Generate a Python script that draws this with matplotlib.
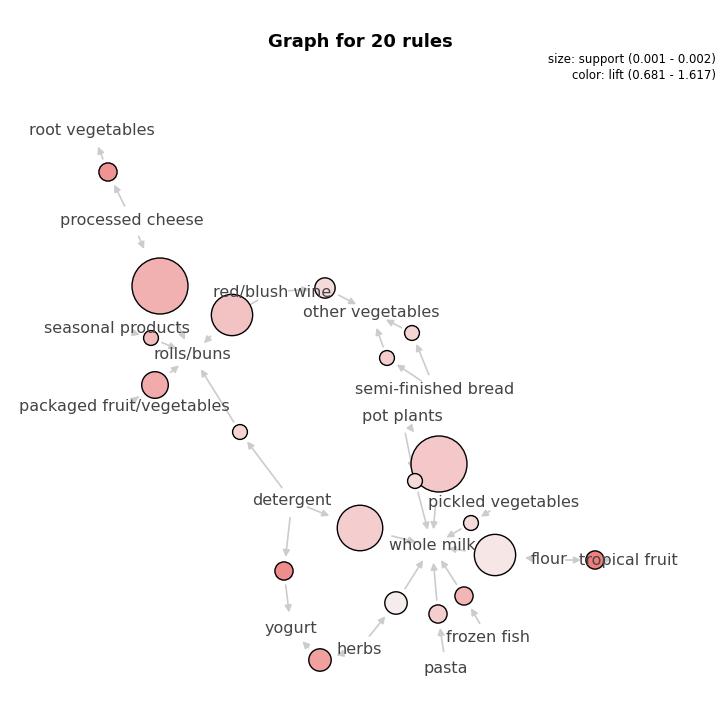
import matplotlib.pyplot as plt
from matplotlib.colors import LinearSegmentedColormap
import numpy as np

# item nodes: label position in the layout (pixel-ish coords, y down)
items = {
    'root vegetables': (92, 131), 'processed cheese': (132, 221),
    'seasonal products': (117, 328), 'rolls/buns': (192, 355),
    'packaged fruit/vegetables': (124, 407), 'red/blush wine': (272, 292),
    'other vegetables': (371, 312), 'semi-finished bread': (435, 390),
    'pot plants': (402, 417), 'pickled vegetables': (504, 502),
    'detergent': (292, 501), 'whole milk': (432, 546), 'flour': (549, 560),
    'tropical fruit': (628, 560), 'yogurt': (291, 629), 'herbs': (359, 649),
    'frozen fish': (488, 638), 'pasta': (446, 668),
}

# rules: lhs, rhs, support, lift
lhs = ['processed cheese', 'processed cheese', 'seasonal products', 'packaged fruit/vegetables',
       'red/blush wine', 'red/blush wine', 'semi-finished bread', 'semi-finished bread',
       'detergent', 'pot plants', 'pot plants', 'detergent', 'pickled vegetables', 'flour',
       'flour', 'detergent', 'herbs', 'herbs', 'pasta', 'frozen fish']
rhs = ['root vegetables', 'rolls/buns', 'rolls/buns', 'rolls/buns', 'rolls/buns',
       'other vegetables', 'other vegetables', 'other vegetables', 'rolls/buns', 'whole milk',
       'whole milk', 'whole milk', 'whole milk', 'whole milk', 'tropical fruit', 'yogurt',
       'yogurt', 'whole milk', 'whole milk', 'whole milk']
support = [0.00110, 0.00200, 0.00102, 0.00130, 0.00165, 0.00115, 0.00102, 0.00102, 0.00102,
           0.00200, 0.00102, 0.00175, 0.00102, 0.00165, 0.00110, 0.00110, 0.00120, 0.00120,
           0.00110, 0.00110]
lift = [1.45, 1.20, 1.10, 1.25, 1.05, 0.85, 0.90, 0.95, 0.90, 1.00, 0.85, 0.95, 0.85, 0.75,
        1.617, 1.50, 1.35, 0.70, 0.95, 1.15]

# layout position of each rule node
rule_pos = [(108, 172), (160, 286), (151, 338), (155, 385), (232, 315), (325, 288),
            (412, 333), (387, 358), (240, 432), (439, 464), (415, 481), (360, 528),
            (471, 523), (495, 555), (595, 560), (284, 571), (320, 660), (396, 603),
            (438, 614), (464, 596)]

cmap = LinearSegmentedColormap.from_list('lift', ['#f7eeee', '#ee7f7f'])
fig = plt.figure(figsize=(7.2, 7.2), dpi=100)
ax = fig.add_axes([0, 0, 1, 1])
ax.set_xlim(0, 720)
ax.set_ylim(720, 0)
ax.axis('off')

smin, smax = 0.001, 0.002
lmin, lmax = 0.681, 1.617
for a, b, s, l, (rx, ry) in zip(lhs, rhs, support, lift, rule_pos):
    r = 7 + (s - smin) / (smax - smin) * 21
    ax.add_patch(plt.Circle((rx, ry), r, facecolor=cmap((l - lmin) / (lmax - lmin)),
                            edgecolor='black', lw=1, zorder=3))
    ax.annotate('', xy=(rx, ry), xytext=items[a],
                arrowprops=dict(arrowstyle='-|>', color='#cccccc', lw=1.2,
                                shrinkA=12, shrinkB=r + 1, mutation_scale=10), zorder=1)
    ax.annotate('', xy=items[b], xytext=(rx, ry),
                arrowprops=dict(arrowstyle='-|>', color='#cccccc', lw=1.2,
                                shrinkA=r + 1, shrinkB=12, mutation_scale=10), zorder=1)

for name, (x, y) in items.items():
    ax.text(x, y, name, ha='center', va='center', fontsize=11.5, color='#444444', zorder=4)

ax.text(360, 42, 'Graph for 20 rules', ha='center', va='center', fontsize=13, fontweight='bold')
ax.text(716, 60, 'size: support (0.001 - 0.002)', ha='right', va='center', fontsize=8.5)
ax.text(716, 76, 'color: lift (0.681 - 1.617)', ha='right', va='center', fontsize=8.5)

fig.savefig('out.png', dpi=100)
